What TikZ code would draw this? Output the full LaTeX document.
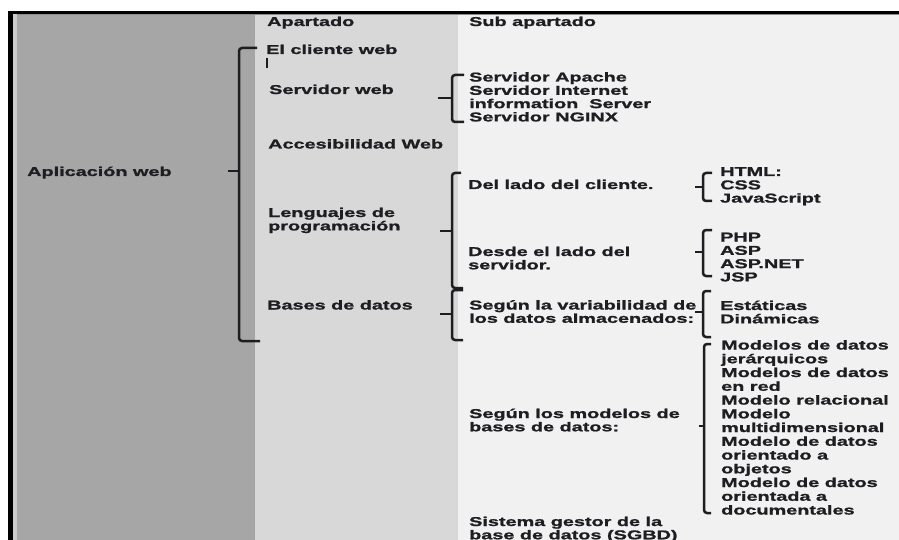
\documentclass[tikz,border=0pt]{standalone}
\usepackage{fontspec}
\setmainfont{Liberation Sans}[FakeStretch=1.55,BoldFeatures={FakeBold=1.3}]
\definecolor{colA}{HTML}{A6A6A6}
\definecolor{colB}{HTML}{D8D8D8}
\definecolor{colC}{HTML}{F1F1F1}
\definecolor{ink}{HTML}{1E1E22}
\newcommand{\ml}[1]{\begin{tabular}[t]{@{}l@{}}#1\end{tabular}}
\begin{document}
\begin{tikzpicture}[x=1pt,y=-1pt,
  txt/.style={anchor=base west, inner sep=0pt, text=ink, font=\fontsize{12.8}{13.3}\selectfont\bfseries},
  txtb/.style={txt, font=\fontsize{12.8}{13.75}\selectfont\bfseries},
  brk/.style={draw=ink, line width=2.5pt, rounded corners=3pt}]
\useasboundingbox (0,0) rectangle (899,540);
\fill[white] (0,0) rectangle (899,540);
% columns
\fill[colA] (16.5,15.5) rectangle (255,540);
\fill[colB] (255,15.5) rectangle (458,540);
\fill[colC] (458,15.5) rectangle (899,540);
% frame
\fill[black!45] (12.7,14.5) rectangle (899,15.5);
\fill[black!20] (12.7,14.5) rectangle (16.5,540);
\fill[black] (8,11) rectangle (899,14.5);
\fill[black] (8,11) rectangle (12.7,540);

% headers
\node[txt] (apartado) at (267,26) {Apartado};
\node[txt] (subap) at (469,26) {Sub apartado};

% level 1
\node[txt] (app) at (27,176) {Aplicación web};

% level 2
\node[txt] (cliente) at (266,54) {El cliente web};
\draw[ink, line width=2pt] (266.5,58) -- (266.5,68);
\node[txt] (servweb) at (269,94) {Servidor web};
\node[txt] (acces) at (268,148.5) {Accesibilidad Web};
\node[txt] (leng) at (268,217) {\ml{Lenguajes de\\programación}};
\node[txt] (bases) at (267,309.5) {Bases de datos};

% level 3
\node[txt] (servlist) at (469,81.5) {\ml{Servidor Apache\\Servidor Internet\\information\ \ Server\\Servidor NGINX}};
\node[txt] (cli) at (468,189) {Del lado del cliente.};
\node[txt] (srv) at (468,256) {\ml{Desde el lado del\\servidor.}};
\node[txt] (var) at (469,309.5) {\ml{Según la variabilidad de\\los datos almacenados:}};
\node[txt] (mod) at (469,418) {\ml{Según los modelos de\\bases de datos:}};
\node[txt] (sgbd) at (469,526) {\ml{Sistema gestor de la\\base de datos (SGBD)}};

% level 4
\node[txt] (html) at (720,176) {\ml{HTML:\\CSS\\JavaScript}};
\node[txt] (php) at (720,241.5) {\ml{PHP\\ASP\\ASP.NET\\JSP}};
\node[txt] (est) at (720,310) {\ml{Estáticas\\Dinámicas}};
\node[txtb] (models) at (721,349.5) {\ml{Modelos de datos\\jerárquicos\\Modelos de datos\\en red\\Modelo relacional\\Modelo\\multidimensional\\Modelo de datos\\orientado a\\objetos\\Modelo de datos\\orientada a\\documentales}};

% brackets
\draw[brk] (257,48) -- (239,48) -- (239,341) -- (260,341);
\draw[brk] (228,171) -- (239,171);

\draw[brk] (464,75) -- (452,75) -- (452,122) -- (464,122);
\draw[brk] (438,98) -- (452,98);

\draw[brk] (461,173) -- (452,173) -- (452,288) -- (463,288);
\draw[brk] (440,231) -- (452,231);

\draw[brk] (463,290) -- (452,290) -- (452,340) -- (463,340);
\draw[brk] (440,314) -- (452,314);

\draw[brk] (712,173) -- (703,173) -- (703,201) -- (712,201);
\draw[brk] (695,187) -- (703,187);

\draw[brk] (712,230) -- (703,230) -- (703,276) -- (712,276);
\draw[brk] (695,252) -- (703,252);

\draw[brk] (711,291) -- (703,291) -- (703,337) -- (711,337);
\draw[brk] (695,312) -- (703,312);

\draw[brk] (711,344) -- (704,344) -- (704,513) -- (711,513);
\draw[brk] (699,426) -- (704,426);
\end{tikzpicture}
\end{document}
